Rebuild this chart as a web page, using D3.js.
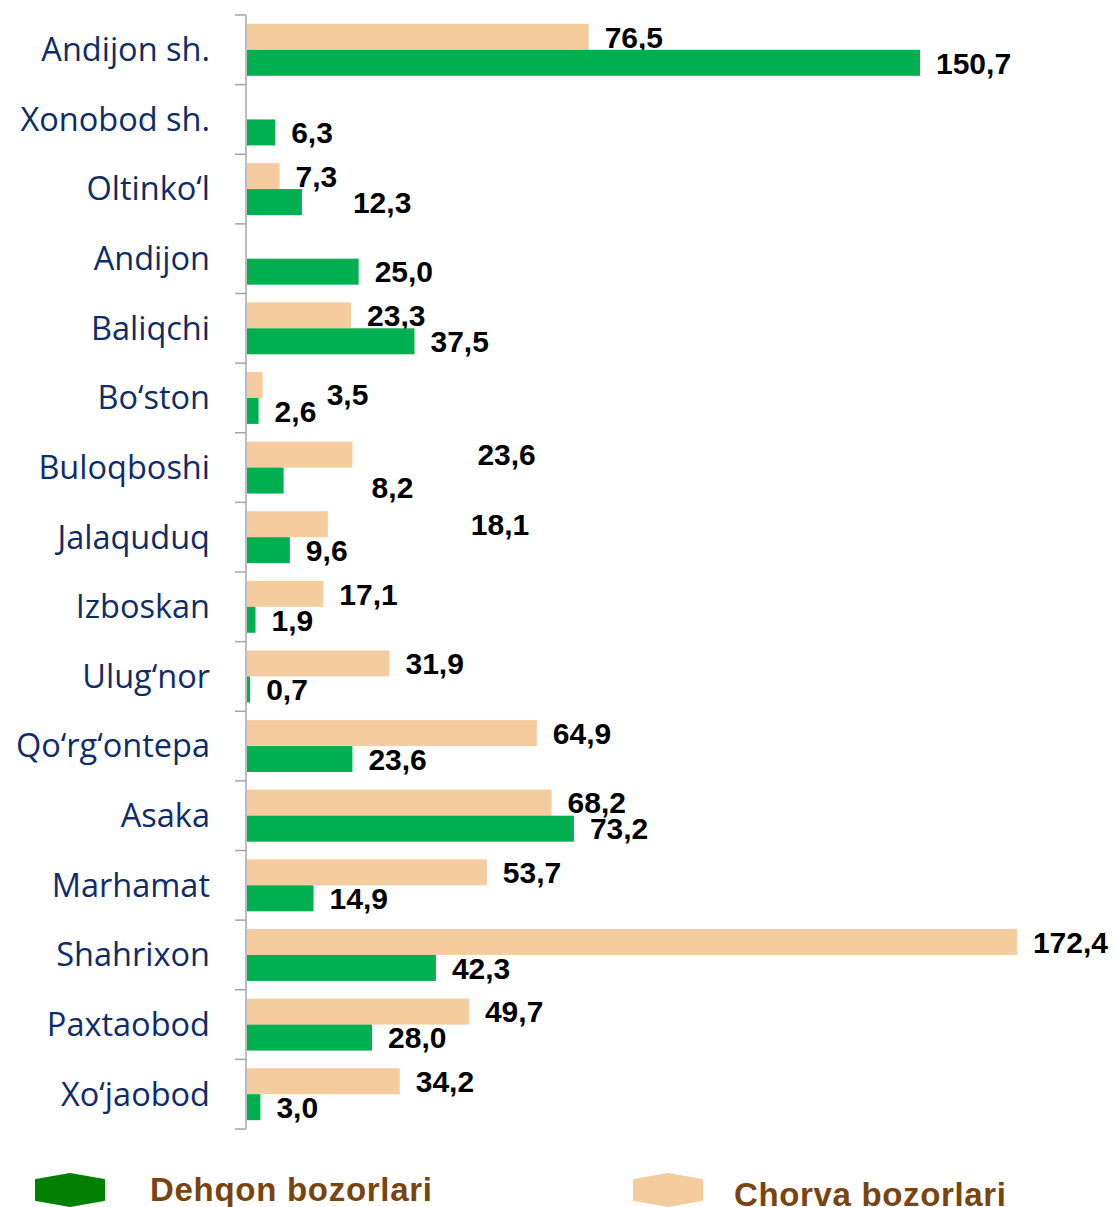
<!DOCTYPE html>
<html>
<head>
<meta charset="utf-8">
<script src="https://cdn.jsdelivr.net/npm/d3@7"></script>
<style>
  body { margin: 0; background: #fff; }
  svg { display: block; }
  .cat text { font-family: "Open Sans", sans-serif; font-size: 32.5px; fill: #0e2c6a; }
  .val { font-family: "Liberation Sans", Arial, sans-serif; font-weight: bold; font-size: 30px; fill: #000; }
  .legend text { font-family: "Liberation Sans", Arial, sans-serif; font-weight: bold; font-size: 33px; fill: #7a4410; }
</style>
</head>
<body>
<svg></svg>
<script>
// districts, top to bottom
const districts = ["Andijon sh.", "Xonobod sh.", "Oltinko‘l", "Andijon", "Baliqchi", "Bo‘ston",
  "Buloqboshi", "Jalaquduq", "Izboskan", "Ulug‘nor", "Qo‘rg‘ontepa", "Asaka", "Marhamat",
  "Shahrixon", "Paxtaobod", "Xo‘jaobod"];
// Chorva bozorlari (beige)
const chorva = [76.5, null, 7.3, null, 23.3, 3.5, 23.6, 18.1, 17.1, 31.9, 64.9, 68.2, 53.7, 172.4, 49.7, 34.2];
// Dehqon bozorlari (green)
const dehqon = [150.7, 6.3, 12.3, 25.0, 37.5, 2.6, 8.2, 9.6, 1.9, 0.7, 23.6, 73.2, 14.9, 42.3, 28.0, 3.0];
const seriesNames = ["Dehqon bozorlari", "Chorva bozorlari"];

const width = 1115, height = 1207;
const margin = { top: 15, left: 246, bottom: 78 };
const colors = { chorva: "#f5cc9d", dehqon: "#00b050" };

// labels that were dragged off their bar in the original
const nudge = {
  "Oltinko‘l|dehqon": [35, 0],
  "Bo‘ston|chorva": [48, 9],
  "Buloqboshi|chorva": [109, 0],
  "Buloqboshi|dehqon": [72, 7],
  "Jalaquduq|chorva": [127, 0]
};

const rows = districts.map((d, i) => ({ name: d, chorva: chorva[i], dehqon: dehqon[i] }));

const svg = d3.select("svg").attr("width", width).attr("height", height);

const y = d3.scaleBand()
  .domain(districts)
  .range([margin.top, height - margin.bottom])
  .padding(0);

const y1 = d3.scaleBand()
  .domain(["chorva", "dehqon"])
  .range([0, y.bandwidth()])
  .paddingInner(0)
  .paddingOuter(0.34);

const x = d3.scaleLinear()
  .domain([0, 150.7])
  .range([margin.left + 1, 920]);

const fmt = v => d3.format(".1f")(v).replace(".", ",");

// bars
const g = svg.selectAll(".row")
  .data(rows)
  .enter()
  .append("g")
  .attr("transform", d => `translate(0,${y(d.name)})`);

["chorva", "dehqon"].forEach(key => {
  g.filter(d => d[key] != null)
    .append("rect")
    .attr("x", x(0))
    .attr("y", y1(key))
    .attr("width", d => x(d[key]) - x(0))
    .attr("height", y1.bandwidth())
    .attr("fill", colors[key]);

  g.filter(d => d[key] != null)
    .append("text")
    .attr("class", "val")
    .attr("x", d => x(d[key]) + 16 + (nudge[d.name + "|" + key] || [0, 0])[0])
    .attr("y", d => y1(key) + y1.bandwidth() / 2 + (nudge[d.name + "|" + key] || [0, 0])[1])
    .attr("dy", "0.36em")
    .text(d => fmt(d[key]));
});

// category axis
svg.append("g")
  .attr("class", "cat")
  .attr("transform", `translate(${margin.left},1)`)
  .call(d3.axisLeft(y).tickSize(0).tickPadding(36))
  .call(a => a.select(".domain").remove());

const axis = svg.append("g").attr("stroke", "#a6a6a6").attr("stroke-width", 1.5);
axis.append("line")
  .attr("x1", margin.left).attr("x2", margin.left)
  .attr("y1", y.range()[0]).attr("y2", y.range()[1]);
axis.selectAll(".tk")
  .data(districts.map(d => y(d)).concat(y.range()[1]))
  .enter()
  .append("line")
  .attr("x1", margin.left - 11).attr("x2", margin.left)
  .attr("y1", d => d).attr("y2", d => d);

// legend
const hex = (cx, cy, w, h) => {
  const s = 6;
  return `M${cx},${cy - h / 2} L${cx + w / 2},${cy - h / 2 + s} L${cx + w / 2},${cy + h / 2 - s} ` +
    `L${cx},${cy + h / 2} L${cx - w / 2},${cy + h / 2 - s} L${cx - w / 2},${cy - h / 2 + s} Z`;
};
const legend = svg.append("g").attr("class", "legend");
const legendItems = [
  { name: seriesNames[0], color: "#008000", cx: 70, tx: 150, ty: 1201 },
  { name: seriesNames[1], color: "#f5cc9d", cx: 668, tx: 734, ty: 1206 }
];
legendItems.forEach(d => {
  legend.append("path")
    .attr("d", hex(d.cx, 1190, 68, 32))
    .attr("fill", d.color)
    .attr("stroke", d.color)
    .attr("stroke-width", 2)
    .attr("stroke-linejoin", "round");
  legend.append("text")
    .attr("x", d.tx)
    .attr("y", d.ty)
    .attr("textLength", d.name === seriesNames[0] ? 282 : 272)
    .text(d.name);
});
</script>
</body>
</html>
